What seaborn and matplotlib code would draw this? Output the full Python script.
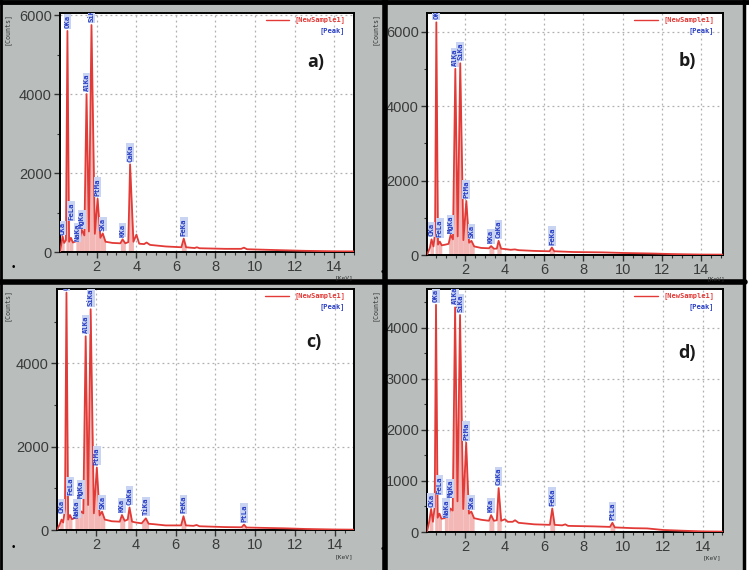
import numpy as np
import pandas as pd
import matplotlib
matplotlib.use("Agg")
import matplotlib.pyplot as plt
from matplotlib.ticker import MultipleLocator
import seaborn as sns

# spectrum a)
energy_a = [0.15, 0.20, 0.28, 0.36, 0.45, 0.525, 0.61, 0.70, 0.80, 0.95, 1.04, 1.13, 1.25, 1.38, 1.49, 1.61,
            1.74, 1.91, 2.05, 2.19, 2.31, 2.45, 2.8, 3.2, 3.31, 3.45, 3.60, 3.69, 3.86, 4.01, 4.15, 4.40,
            4.52, 4.70, 5.5, 6.28, 6.40, 6.52, 6.95, 7.06, 7.2, 8.5, 9.3, 9.44, 9.6, 11.0, 12.5, 14.0, 15.0]
counts_a = [0, 150, 400, 230, 300, 5600, 260, 360, 240, 270, 320, 300, 560, 420, 4000, 520,
            5750, 460, 1350, 360, 470, 260, 230, 220, 320, 220, 250, 2220, 260, 440, 210, 200,
            240, 180, 140, 120, 340, 120, 100, 120, 95, 80, 80, 110, 70, 50, 30, 18, 15]
peaks_a = ["CKa", "OKa", "FeLa", "NaKa", "MgKa", "AlKa", "SiKa", "PtMa", "SKa", "KKa", "CaKa", "FeKa"]
peak_e_a = [0.28, 0.525, 0.70, 1.04, 1.25, 1.49, 1.74, 2.05, 2.31, 3.31, 3.69, 6.40]

# spectrum b)
energy_b = [0.05, 0.20, 0.28, 0.38, 0.46, 0.525, 0.61, 0.70, 0.80, 1.00, 1.15, 1.25, 1.37, 1.49, 1.61, 1.74,
            1.90, 2.05, 2.19, 2.31, 2.45, 2.8, 3.2, 3.31, 3.45, 3.60, 3.69, 3.82, 4.01, 4.3, 4.52, 4.7,
            5.5, 6.28, 6.40, 6.52, 7.5, 9.0, 10.0, 11.5, 12.5, 14.0, 15.1]
counts_b = [0, 200, 420, 230, 600, 6250, 280, 360, 260, 280, 300, 540, 420, 5000, 500, 5150,
            400, 1450, 330, 380, 230, 190, 180, 240, 170, 170, 380, 170, 160, 140, 150, 130,
            110, 100, 200, 100, 80, 70, 55, 40, 25, 12, 10]
peaks_b = ["CKa", "OKa", "FeLa", "MgKa", "AlKa", "SiKa", "PtMa", "SKa", "KKa", "CaKa", "FeKa"]
peak_e_b = [0.28, 0.525, 0.70, 1.25, 1.49, 1.74, 2.05, 2.31, 3.31, 3.69, 6.40]

# spectrum c)
energy_c = [0.05, 0.18, 0.28, 0.36, 0.45, 0.525, 0.61, 0.70, 0.80, 0.95, 1.04, 1.14, 1.25, 1.37, 1.49, 1.61,
            1.74, 1.90, 2.05, 2.19, 2.31, 2.45, 2.8, 3.2, 3.31, 3.45, 3.60, 3.69, 3.82, 4.01, 4.3, 4.51,
            4.65, 4.9, 5.5, 6.28, 6.40, 6.52, 6.9, 7.06, 7.2, 8.5, 9.32, 9.44, 9.56, 10.5, 11.5, 12.5,
            14.0, 15.0]
counts_c = [0, 130, 250, 180, 500, 5700, 250, 360, 260, 290, 350, 320, 450, 400, 4650, 600,
            5300, 400, 1500, 350, 440, 250, 210, 200, 360, 220, 250, 540, 200, 180, 160, 280,
            150, 140, 110, 110, 330, 110, 100, 120, 90, 70, 65, 130, 60, 50, 40, 25,
            12, 8]
peaks_c = ["CKa", "OKa", "FeLa", "NaKa", "MgKa", "AlKa", "SiKa", "PtMa", "SKa", "KKa", "CaKa", "TiKa",
           "FeKa", "PtLa"]
peak_e_c = [0.28, 0.525, 0.70, 1.04, 1.25, 1.49, 1.74, 2.05, 2.31, 3.31, 3.69, 4.51, 6.40, 9.44]

# spectrum d)
energy_d = [0.07, 0.18, 0.28, 0.37, 0.46, 0.525, 0.61, 0.70, 0.80, 0.95, 1.04, 1.14, 1.25, 1.37, 1.49, 1.61,
            1.74, 1.90, 2.05, 2.19, 2.31, 2.45, 2.8, 3.2, 3.31, 3.45, 3.60, 3.69, 3.82, 4.01, 4.15, 4.4,
            4.52, 4.7, 5.5, 6.28, 6.40, 6.52, 6.9, 7.06, 7.2, 8.5, 9.32, 9.44, 9.56, 10.5, 11.2, 12.0,
            13.0, 14.0, 15.0]
counts_d = [0, 200, 450, 200, 500, 4450, 280, 360, 260, 270, 300, 320, 460, 420, 4400, 600,
            4250, 450, 1750, 360, 400, 270, 240, 220, 330, 220, 230, 860, 220, 250, 200, 200,
            230, 180, 150, 140, 460, 140, 130, 150, 120, 110, 100, 180, 90, 75, 70, 40,
            25, 12, 8]
peaks_d = ["CKa", "OKa", "FeLa", "NaKa", "MgKa", "AlKa", "SiKa", "PtMa", "SKa", "KKa", "CaKa", "FeKa", "PtLa"]
peak_e_d = [0.28, 0.525, 0.70, 1.04, 1.25, 1.49, 1.74, 2.05, 2.31, 3.31, 3.69, 6.40, 9.44]

panel_letters = ["a)", "b)", "c)", "d)"]

# where the crowded low-energy labels sit (bottom of label, in counts)
label_bottom_a = {"CKa": 440, "FeLa": 820, "NaKa": 270, "MgKa": 600}
label_bottom_b = {"FeLa": 490, "MgKa": 580}
label_bottom_c = {"CKa": 410, "FeLa": 840, "NaKa": 300, "MgKa": 760}
label_bottom_d = {"CKa": 490, "FeLa": 750, "NaKa": 300, "MgKa": 680}

W, H = 749, 570
bg_gray = "#b9bebd"
line_red = "#e23a36"
peak_blue = "#2a3fc4"

sns.set_theme(style="white")
plt.rcParams["font.family"] = ["Liberation Sans", "DejaVu Sans"]

fig = plt.figure(figsize=(W / 100, H / 100), dpi=100)
fig.patch.set_facecolor(bg_gray)


def px_axes(left, right, top, bottom):
    return fig.add_axes([left / W, 1 - bottom / H, (right - left) / W, (bottom - top) / H])


panels = [
    dict(box=(60, 354, 13, 252), xlim=(0.15, 15.0), ylim=(0, 6055), ymaj=2000, ymin=1000,
         e=energy_a, c=counts_a, names=peaks_a, pe=peak_e_a, lb=label_bottom_a, letter=(0.87, 0.795)),
    dict(box=(427, 723, 13, 255), xlim=(0.05, 15.1), ylim=(0, 6500), ymaj=2000, ymin=1000,
         e=energy_b, c=counts_b, names=peaks_b, pe=peak_e_b, lb=label_bottom_b, letter=(0.878, 0.80)),
    dict(box=(57, 354, 289, 530), xlim=(0.05, 14.96), ylim=(0, 5786), ymaj=2000, ymin=1000,
         e=energy_c, c=counts_c, names=peaks_c, pe=peak_e_c, lb=label_bottom_c, letter=(0.865, 0.78)),
    dict(box=(427, 723, 289, 532), xlim=(0.07, 15.03), ylim=(0, 4760), ymaj=1000, ymin=500,
         e=energy_d, c=counts_d, names=peaks_d, pe=peak_e_d, lb=label_bottom_d, letter=(0.878, 0.735)),
]

for i, p in enumerate(panels):
    ax = px_axes(*p["box"])
    ax.set_facecolor("white")
    df = pd.DataFrame({"energy": p["e"], "counts": p["c"]})

    # pink area under each labelled peak
    for pe in p["pe"]:
        k = p["e"].index(pe)
        ax.fill_between(p["e"][k - 1:k + 2], p["c"][k - 1:k + 2], color="#f3b7b5", lw=0, zorder=1)

    sns.lineplot(data=df, x="energy", y="counts", sort=False, estimator=None,
                 color=line_red, lw=1.3, ax=ax, zorder=3)

    ymax = p["ylim"][1]
    for name, pe in zip(p["names"], p["pe"]):
        h = p["c"][p["e"].index(pe)]
        y0 = p["lb"].get(name, h + ymax * 0.012)
        ax.text(pe, y0, name, rotation=90, ha="center", va="bottom",
                fontsize=5.2, fontweight="bold", family="DejaVu Sans Mono", color=peak_blue,
                bbox=dict(boxstyle="square,pad=0.12", fc="#c9d3f2", ec="none"), clip_on=True, zorder=4)

    ax.set_xlim(*p["xlim"])
    ax.set_ylim(*p["ylim"])
    ax.xaxis.set_major_locator(MultipleLocator(2))
    ax.xaxis.set_minor_locator(MultipleLocator(0.5))
    ax.yaxis.set_major_locator(MultipleLocator(p["ymaj"]))
    ax.yaxis.set_minor_locator(MultipleLocator(p["ymin"]))
    ax.set_xticks([2, 4, 6, 8, 10, 12, 14])
    ax.grid(False, which="minor")
    ax.grid(True, which="major", color="#b0b0b0", ls=(0, (1.5, 2.5)), lw=0.9)
    ax.tick_params(which="major", direction="out", length=4, width=1, color="#333333",
                   labelsize=10.5, labelcolor="#3a3a3a", pad=2, left=True, bottom=True)
    ax.tick_params(which="minor", direction="out", length=2.5, width=0.8, color="#333333",
                   left=True, bottom=True, gridOn=False)
    for s in ax.spines.values():
        s.set_color("black")
        s.set_linewidth(1.4)
    ax.set_xlabel("")
    ax.set_ylabel("")

    # legend box at top right
    ax.plot([0.70, 0.78], [0.972, 0.972], transform=ax.transAxes, color=line_red, lw=1.0, clip_on=False)
    ax.text(0.97, 0.972, "[NewSample1]", transform=ax.transAxes, ha="right", va="center",
            fontsize=5, fontweight="bold", family="DejaVu Sans Mono", color=line_red)
    ax.text(0.97, 0.928, "[Peak]", transform=ax.transAxes, ha="right", va="center",
            fontsize=5, fontweight="bold", family="DejaVu Sans Mono", color=peak_blue)

    ax.text(p["letter"][0], p["letter"][1], panel_letters[i], transform=ax.transAxes,
            ha="center", va="center", fontsize=13, fontweight="bold", color="#1a1a1a",
            family=["Open Sans", "DejaVu Sans"])

# axis captions and marks from the screenshots
for x, y in [(7, 13), (375, 13), (7, 289), (375, 289)]:
    fig.text(x / W, 1 - y / H, "[Counts]", rotation=90, ha="center", va="top",
             fontsize=4.8, family="DejaVu Sans Mono", color="#333333")
for x, y in [(344, 278), (716, 279), (344, 557), (712, 558)]:
    fig.text(x / W, 1 - y / H, "[KeV]", ha="center", va="center",
             fontsize=4.5, family="DejaVu Sans Mono", color="#333333")
for x, y in [(13, 267), (382, 272), (13, 547), (382, 549)]:
    fig.text(x / W, 1 - y / H, "\u2022", ha="center", va="center", fontsize=7, color="black")

# frame lines between the four screenshots
border = fig.add_axes([0, 0, 1, 1], facecolor="none")
border.set_xlim(0, W)
border.set_ylim(H, 0)
border.axis("off")
border.axvspan(745, W, color="white", zorder=0)
border.plot([0, W], [1.5, 1.5], color="black", lw=3.5)
border.plot([1, 1], [0, H], color="black", lw=2)
border.plot([744, 744], [0, H], color="black", lw=2.5)
border.plot([385, 385], [0, H], color="black", lw=4)
border.plot([0, 745], [282, 282], color="black", lw=4)

fig.savefig("out.png", dpi=100, facecolor=fig.get_facecolor())
